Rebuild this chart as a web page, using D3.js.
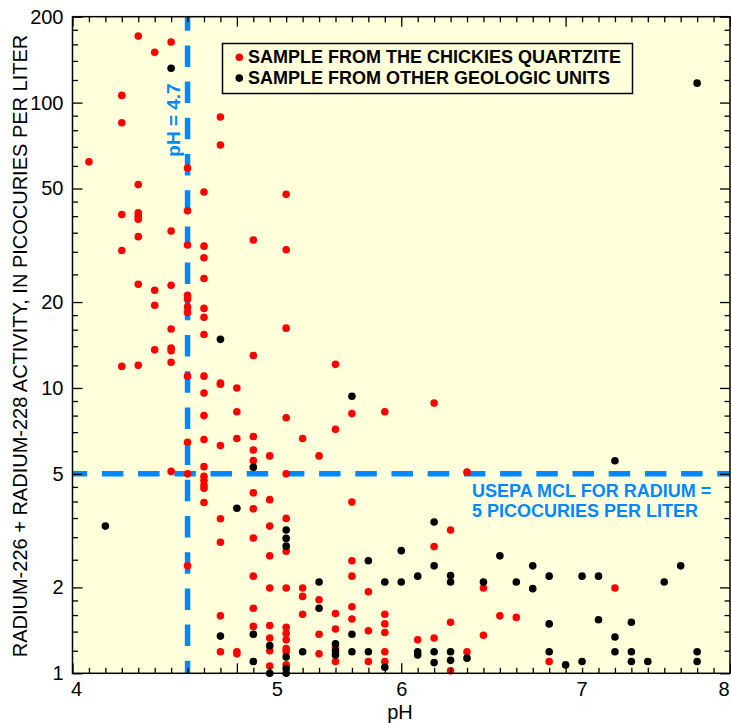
<!DOCTYPE html>
<html>
<head>
<meta charset="utf-8">
<script src="https://cdn.jsdelivr.net/npm/d3@7/dist/d3.min.js"></script>
<style>
  body { margin: 0; background: #fff; }
  text { font-family: "Liberation Sans", Arial, sans-serif; }
</style>
</head>
<body>
<div id="chart"></div>
<script>

// samples, [pH, radium activity in pCi/L]
const chickiesSamples = [
  [4.1, 62],
  [4.3, 106], [4.3, 85], [4.3, 40.5], [4.3, 30.3], [4.3, 11.9],
  [4.4, 171], [4.4, 51.6], [4.4, 41.1], [4.4, 40], [4.4, 39], [4.4, 33.9], [4.4, 23.1], [4.4, 12],
  [4.5, 150], [4.5, 22], [4.5, 19.5], [4.5, 13.6],
  [4.6, 163], [4.6, 35.5], [4.6, 22.9], [4.6, 16.1], [4.6, 13.8], [4.6, 13.5], [4.6, 12.3], [4.6, 5.1],
  [4.7, 59], [4.7, 41.8], [4.7, 31.7], [4.7, 21.1], [4.7, 20.5], [4.7, 19.2], [4.7, 18.4], [4.7, 11],
  [4.7, 6.45], [4.7, 5], [4.7, 2.38],
  [4.8, 48.6], [4.8, 31.4], [4.8, 28.6], [4.8, 24.2], [4.8, 19], [4.8, 17.7], [4.8, 15.4], [4.8, 11],
  [4.8, 9.6], [4.8, 8], [4.8, 6.6], [4.8, 5.3], [4.8, 4.9], [4.8, 4.75], [4.8, 4.57], [4.8, 4.45], [4.8, 3.97],
  [4.9, 89], [4.9, 71], [4.9, 10.4], [4.9, 10.3], [4.9, 6.28], [4.9, 3.48], [4.9, 2.88], [4.9, 1.59], [4.9, 1.19],
  [5.0, 10], [5.0, 8.25], [5.0, 6.65], [5.0, 1.19], [5.0, 1.17],
  [5.1, 33], [5.1, 13], [5.1, 6.76], [5.1, 6.06], [5.1, 5.57], [5.1, 4.29], [5.1, 3.77], [5.1, 2.98],
  [5.1, 2.19], [5.1, 1.69], [5.1, 1.46],
  [5.2, 5.78], [5.2, 4.06], [5.2, 3.28], [5.2, 2.58], [5.2, 1.99], [5.2, 1.47], [5.2, 1.33], [5.2, 1.2], [5.2, 1.06],
  [5.3, 47.7], [5.3, 30.5], [5.3, 16.2], [5.3, 7.86], [5.3, 5], [5.3, 3.49], [5.3, 2.68], [5.3, 1.99],
  [5.3, 1.45], [5.3, 1.38], [5.3, 1.31], [5.3, 1.22], [5.3, 1.19], [5.3, 1.07],
  [5.4, 6.65], [5.4, 1.99], [5.4, 1.86], [5.4, 1.61],
  [5.5, 5.78], [5.5, 1.81], [5.5, 1.37], [5.5, 1.17],
  [5.6, 12.1], [5.6, 7.16], [5.6, 1.62], [5.6, 1.43], [5.6, 1.23], [5.6, 1.1],
  [5.7, 8.13], [5.7, 3.98], [5.7, 2.48], [5.7, 2.19], [5.7, 1.71], [5.7, 1.55],
  [5.8, 1.93], [5.8, 1.41], [5.8, 1.1],
  [5.9, 8.25], [5.9, 1.61], [5.9, 1.49], [5.9, 1.39], [5.9, 1.19], [5.9, 1.1],
  [6.1, 1.31],
  [6.2, 8.85], [6.2, 2.78], [6.2, 1.33],
  [6.3, 3.18], [6.3, 1.51], [6.3, 1.02],
  [6.4, 5.07], [6.4, 1.19],
  [6.5, 1.99], [6.5, 1.36],
  [6.6, 1.59], [6.7, 1.57], [6.9, 1.1], [7.3, 1.99]
];

const otherSamples = [
  [4.2, 3.28], [4.6, 132], [4.9, 14.8], [4.9, 1.35], [5.0, 3.79],
  [5.1, 5.27], [5.1, 1.37], [5.1, 1.1],
  [5.2, 1.25], [5.2, 1.0],
  [5.3, 3.18], [5.3, 2.97], [5.3, 2.79], [5.3, 1.14], [5.3, 1.04], [5.3, 1.0],
  [5.4, 1.19],
  [5.5, 2.09], [5.5, 1.69],
  [5.6, 1.27], [5.6, 1.2], [5.6, 1.16],
  [5.7, 9.35], [5.7, 1.37], [5.7, 1.19],
  [5.8, 2.48], [5.8, 1.19],
  [5.9, 2.09], [5.9, 1.05],
  [6.0, 2.69], [6.0, 2.09],
  [6.1, 2.19], [6.1, 1.19], [6.1, 1.16],
  [6.2, 3.39], [6.2, 2.38], [6.2, 1.19], [6.2, 1.09],
  [6.3, 2.2], [6.3, 2.09], [6.3, 1.19], [6.3, 1.11],
  [6.4, 1.13], [6.5, 2.09], [6.6, 2.58], [6.7, 2.09],
  [6.8, 2.38], [6.8, 1.98],
  [6.9, 2.19], [6.9, 1.49], [6.9, 1.19],
  [7.0, 1.07], [7.1, 2.19], [7.1, 1.1],
  [7.2, 2.19], [7.2, 1.54],
  [7.3, 5.56], [7.3, 1.34], [7.3, 1.19],
  [7.4, 1.51], [7.4, 1.19], [7.4, 1.1],
  [7.5, 1.1], [7.6, 2.09], [7.7, 2.38],
  [7.8, 117], [7.8, 1.19], [7.8, 1.1]
];

const legendLabels = ["SAMPLE FROM THE CHICKIES QUARTZITE", "SAMPLE FROM OTHER GEOLOGIC UNITS"];
const xMajorTicks = [4, 5, 6, 7, 8];
const yMajorTicks = [1, 2, 5, 10, 20, 50, 100, 200];
const yMinorTicks = [1.2, 1.4, 1.6, 1.8, 2.5, 3, 3.5, 4, 4.5, 6, 7, 8, 9,
                     12, 14, 16, 18, 25, 30, 35, 40, 45, 60, 70, 80, 90,
                     120, 140, 160, 180];
const phLimit = 4.7;
const mclLimit = 5;
const mclLabel = ["USEPA MCL FOR RADIUM =", "5 PICOCURIES PER LITER"];
const phLabel = "pH = 4.7";
const xTitle = "pH";
const yTitle = "RADIUM-226 + RADIUM-228 ACTIVITY, IN PICOCURIES PER LITER";

// layout
const width = 731, height = 723;
const plotLeft = 72.5, plotRight = 730, plotTop = 16.7, plotBottom = 673.3;
const blue = "#0088ff";

const svg = d3.select("#chart").append("svg")
  .attr("width", width)
  .attr("height", height);

const x = d3.scaleLinear().domain([4, 8]).range([plotLeft, plotRight]);
const y = d3.scaleLog().domain([1, 200]).range([plotBottom, plotTop]);

const xMinorTicks = d3.range(40, 81).map(d => d / 10).filter(d => !Number.isInteger(d));

// plot background
svg.append("rect")
  .attr("x", plotLeft).attr("y", plotTop)
  .attr("width", plotRight - plotLeft).attr("height", plotBottom - plotTop)
  .attr("fill", "#ffffdc");

// reference lines
svg.append("line")
  .attr("x1", x(phLimit)).attr("x2", x(phLimit))
  .attr("y1", plotTop).attr("y2", plotBottom)
  .attr("stroke", blue).attr("stroke-width", 5.5)
  .attr("stroke-dasharray", "21.5,14.7").attr("stroke-dashoffset", 7.5);

svg.append("line")
  .attr("x1", plotLeft).attr("x2", plotRight)
  .attr("y1", y(mclLimit)).attr("y2", y(mclLimit))
  .attr("stroke", blue).attr("stroke-width", 5.5)
  .attr("stroke-dasharray", "21.5,14.7").attr("stroke-dashoffset", 6.8);

svg.append("text")
  .attr("transform", `translate(${x(phLimit) - 7.5},120) rotate(-90)`)
  .attr("text-anchor", "middle")
  .attr("fill", blue).attr("font-weight", "bold").attr("font-size", 19)
  .text(phLabel);

svg.selectAll(".mcl-label")
  .data(mclLabel)
  .join("text")
  .attr("class", "mcl-label")
  .attr("x", 472)
  .attr("y", (d, i) => y(mclLimit) + 23 + i * 20.5)
  .attr("fill", blue).attr("font-weight", "bold").attr("font-size", 18)
  .text(d => d);

// samples
svg.append("g").selectAll("circle")
  .data(chickiesSamples)
  .join("circle")
  .attr("cx", d => x(d[0]))
  .attr("cy", d => y(d[1]))
  .attr("r", 3.8)
  .attr("fill", "#ff0000");

svg.append("g").selectAll("circle")
  .data(otherSamples)
  .join("circle")
  .attr("cx", d => x(d[0]))
  .attr("cy", d => y(d[1]))
  .attr("r", 3.8)
  .attr("fill", "#000");

// legend
const legend = svg.append("g");
legend.append("rect")
  .attr("x", 222.5).attr("y", 43.5)
  .attr("width", 410).attr("height", 50)
  .attr("fill", "#ffffdc")
  .attr("stroke", "#000").attr("stroke-width", 1.5);

legendLabels.forEach((label, i) => {
  legend.append("circle")
    .attr("cx", 239.3).attr("cy", 57.3 + i * 20.8)
    .attr("r", 3.8)
    .attr("fill", i === 0 ? "#ff0000" : "#000");
  legend.append("text")
    .attr("x", 248).attr("y", 63.3 + i * 20.8)
    .attr("font-weight", "bold").attr("font-size", 18)
    .text(label);
});

// axes, ticks pointing inward on all four sides
function styleAxis(g) {
  g.select(".domain").remove();
  g.selectAll(".tick line").attr("stroke", "#000").attr("stroke-width", 1.3);
  g.selectAll(".tick text").attr("font-size", 20).attr("font-family", "Liberation Sans, Arial, sans-serif").attr("fill", "#000");
}

// the labels in the figure sit off their ticks
const xLabelNudge = {4: 3.5, 5: 40, 6: 0, 7: 16, 8: -6.5};

svg.append("g")
  .attr("transform", `translate(0,${plotBottom})`)
  .call(d3.axisBottom(x).tickValues(xMajorTicks).tickSize(-10).tickPadding(9).tickFormat(d3.format("d")))
  .call(styleAxis)
  .call(g => g.selectAll(".tick text").attr("dx", d => xLabelNudge[d]));

svg.append("g")
  .attr("transform", `translate(0,${plotBottom})`)
  .call(d3.axisBottom(x).tickValues(xMinorTicks).tickSize(-5.5).tickFormat(""))
  .call(styleAxis);

svg.append("g")
  .attr("transform", `translate(0,${plotTop})`)
  .call(d3.axisTop(x).tickValues(xMajorTicks).tickSize(-10).tickFormat(""))
  .call(styleAxis);

svg.append("g")
  .attr("transform", `translate(0,${plotTop})`)
  .call(d3.axisTop(x).tickValues(xMinorTicks).tickSize(-5.5).tickFormat(""))
  .call(styleAxis);

svg.append("g")
  .attr("transform", `translate(${plotLeft},0)`)
  .call(d3.axisLeft(y).tickValues(yMajorTicks).tickSize(-10).tickPadding(9).tickFormat(d3.format("d")))
  .call(styleAxis);

svg.append("g")
  .attr("transform", `translate(${plotLeft},0)`)
  .call(d3.axisLeft(y).tickValues(yMinorTicks).tickSize(-5.5).tickFormat(""))
  .call(styleAxis);

svg.append("g")
  .attr("transform", `translate(${plotRight},0)`)
  .call(d3.axisRight(y).tickValues(yMajorTicks).tickSize(-10).tickFormat(""))
  .call(styleAxis);

svg.append("g")
  .attr("transform", `translate(${plotRight},0)`)
  .call(d3.axisRight(y).tickValues(yMinorTicks).tickSize(-5.5).tickFormat(""))
  .call(styleAxis);

// frame
svg.append("rect")
  .attr("x", plotLeft).attr("y", plotTop)
  .attr("width", plotRight - plotLeft).attr("height", plotBottom - plotTop)
  .attr("fill", "none")
  .attr("stroke", "#000").attr("stroke-width", 1.5);

// axis titles
svg.append("text")
  .attr("x", 400).attr("y", 719)
  .attr("text-anchor", "middle").attr("font-size", 20)
  .text(xTitle);

svg.append("text")
  .attr("transform", "translate(26.7,346) rotate(-90)")
  .attr("text-anchor", "middle").attr("font-size", 20)
  .text(yTitle);

</script>
</body>
</html>
